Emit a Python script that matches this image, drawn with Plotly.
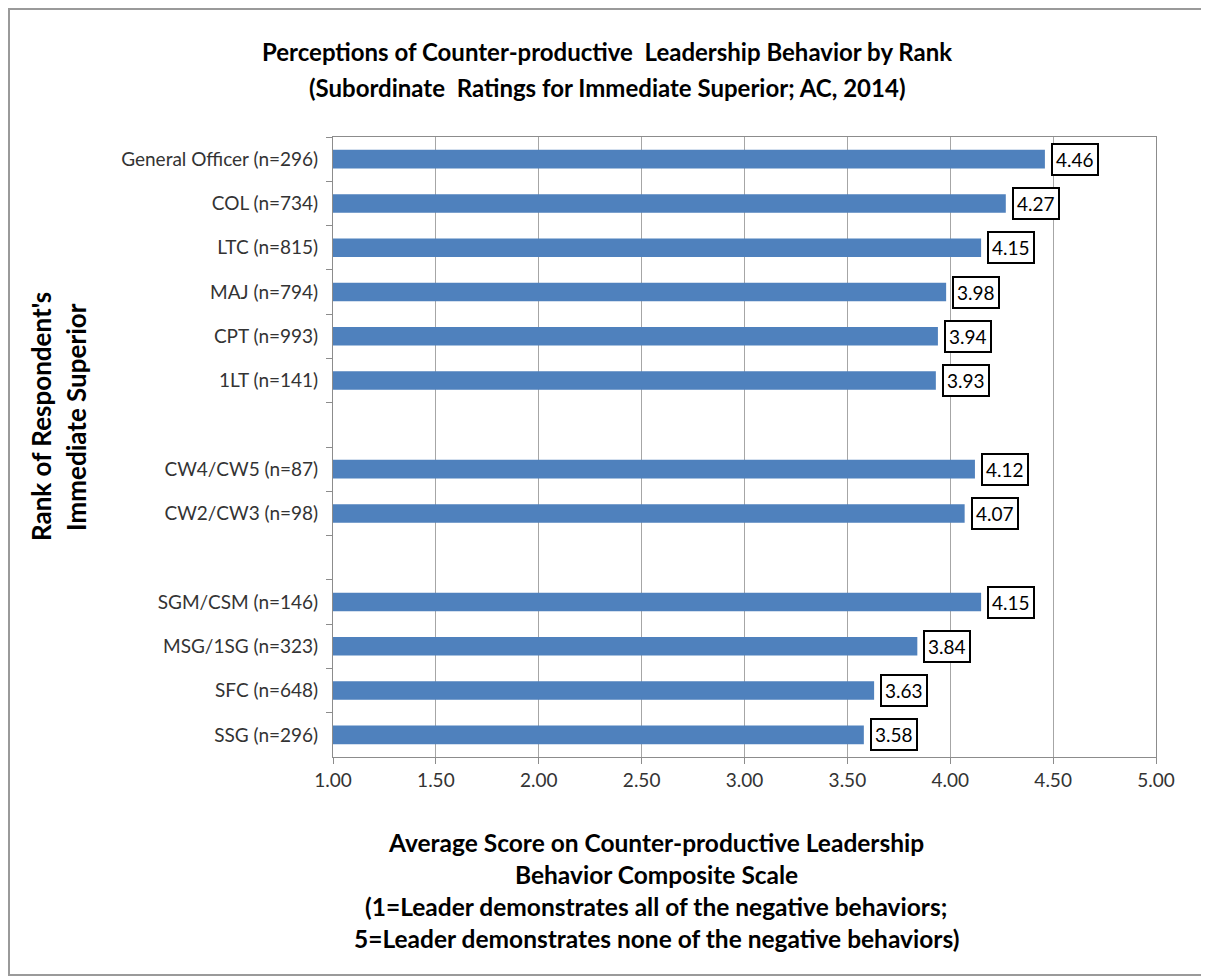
import plotly.graph_objects as go

# rows top to bottom; blank rows are the gaps between officer / warrant / NCO groups
RANKS = [
    "General Officer (n=296)",
    "COL (n=734)",
    "LTC (n=815)",
    "MAJ (n=794)",
    "CPT (n=993)",
    "1LT (n=141)",
    " ",
    "CW4/CW5 (n=87)",
    "CW2/CW3 (n=98)",
    "  ",
    "SGM/CSM (n=146)",
    "MSG/1SG (n=323)",
    "SFC (n=648)",
    "SSG (n=296)",
]
SCORES = [4.46, 4.27, 4.15, 3.98, 3.94, 3.93, None, 4.12, 4.07, None, 4.15, 3.84, 3.63, 3.58]
X_TICKS = [1.0, 1.5, 2.0, 2.5, 3.0, 3.5, 4.0, 4.5, 5.0]

TITLE_LINES = [
    "Perceptions of Counter-productive  Leadership Behavior by Rank",
    "(Subordinate  Ratings for Immediate Superior; AC, 2014)",
]
X_TITLE_LINES = [
    "Average Score on Counter-productive Leadership",
    "Behavior Composite Scale",
    "(1=Leader demonstrates all of the negative behaviors;",
    "5=Leader demonstrates none of the negative behaviors)",
]
Y_TITLE_LINES = ["Rank of Respondent's", "Immediate Superior"]

# the page puts the plot 8px in from the window corner, so work in window pixels
OFF = 8
W, H = 1209 - OFF, 979 - OFF
L, T = 333 - OFF, 137 - OFF
R, B = 1209 - 1156, 979 - 757
PW, PH = W - L - R, H - T - B


def px_x(p):
    return (p - OFF - L) / PW


def px_y(p):
    return 1 - (p - OFF - T) / PH


FONT = "Lato, Carlito, Calibri, sans-serif"
BAR = "#4F81BD"
GRID = "#A6A6A6"
AXIS = "#8C8C8C"

fig = go.Figure(
    go.Bar(
        x=SCORES,
        y=RANKS,
        orientation="h",
        width=0.42,
        marker={"color": BAR, "line": {"width": 0}},
        hoverinfo="x+y",
    )
)

annotations = []
for rank, score in zip(RANKS, SCORES):
    if score is None:
        continue
    annotations.append(dict(
        x=score, y=rank, xref="x", yref="y",
        text=f"{score:.2f}", showarrow=False,
        xanchor="left", xshift=6,
        font={"family": FONT, "size": 19, "color": "#000"},
        bgcolor="white", bordercolor="#000", borderwidth=2, borderpad=3,
    ))


def text_line(txt, x, y, size, angle=0):
    return dict(text=f"<b>{txt}</b>", x=px_x(x), y=px_y(y), xref="paper", yref="paper",
                showarrow=False, textangle=angle, xanchor="center", yanchor="middle",
                font={"family": FONT, "size": size, "color": "#000"})


for txt, y in zip(TITLE_LINES, [52, 88]):
    annotations.append(text_line(txt, 607, y, 24))
for txt, y in zip(X_TITLE_LINES, [842, 874, 906, 938]):
    annotations.append(text_line(txt, 656, y, 24.5))
for txt, x in zip(Y_TITLE_LINES, [41, 76]):
    annotations.append(text_line(txt, x, 417, 26, angle=-90))

fig.update_layout(
    width=W, height=H,
    margin={"l": L, "r": R, "t": T, "b": B},
    paper_bgcolor="white",
    plot_bgcolor="white",
    showlegend=False,
    font={"family": FONT, "size": 19, "color": "#333"},
    annotations=annotations,
    shapes=[dict(type="rect", xref="paper", yref="paper",
                 x0=px_x(9), x1=px_x(1206), y0=px_y(9), y1=px_y(975),
                 line={"color": "#9A9A9A", "width": 2}, layer="below")],
)
fig.update_xaxes(
    range=[1, 5], tickvals=X_TICKS, ticktext=[f"{v:.2f}" for v in X_TICKS],
    showgrid=True, gridcolor=GRID, gridwidth=1,
    showline=True, linecolor=AXIS, linewidth=1, mirror=True,
    ticks="outside", ticklen=6, tickcolor=AXIS,
    zeroline=False, tickfont={"size": 19, "color": "#333"},
)
fig.update_yaxes(
    type="category", categoryorder="array", categoryarray=RANKS,
    autorange="reversed",
    tickson="boundaries", ticks="outside", ticklen=6, tickcolor=AXIS,
    showline=True, linecolor=AXIS, linewidth=1, mirror=True,
    showgrid=False, tickfont={"size": 19, "color": "#333"}, ticklabelstandoff=10,
)

fig.write_html("out.html")
